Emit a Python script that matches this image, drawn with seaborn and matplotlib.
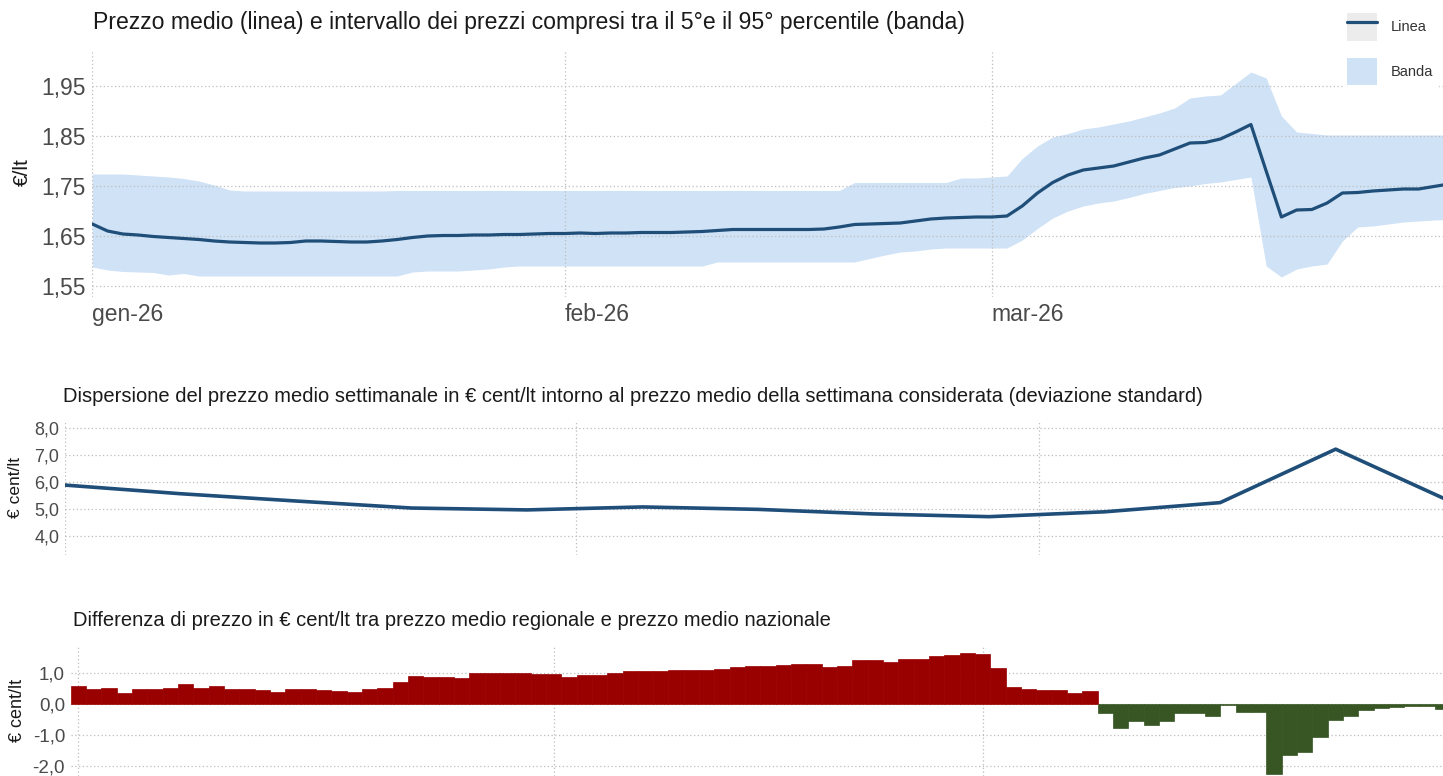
import numpy as np
import pandas as pd
import matplotlib
matplotlib.use("Agg")
import matplotlib.pyplot as plt
import matplotlib.dates as mdates
from matplotlib.lines import Line2D
from matplotlib.patches import Patch
from matplotlib.legend_handler import HandlerTuple
import seaborn as sns

sns.set_theme(style="white")
plt.rcParams['font.family'] = ['Liberation Sans', 'DejaVu Sans']

# ---- data ----
start_date = "2026-01-01"
month_starts = ["2026-01-01", "2026-02-01", "2026-03-01"]
month_labels = ["gen-26", "feb-26", "mar-26"]

# daily average price (EUR/lt)
price_mean = [1.674, 1.660, 1.654, 1.652, 1.649, 1.647, 1.645, 1.643, 1.640, 1.638,
              1.637, 1.636, 1.636, 1.637, 1.640, 1.640, 1.639, 1.638, 1.638, 1.640,
              1.643, 1.647, 1.650, 1.651, 1.651, 1.652, 1.652, 1.653, 1.653, 1.654,
              1.655, 1.655, 1.656, 1.655, 1.656, 1.656, 1.657, 1.657, 1.657, 1.658,
              1.659, 1.661, 1.663, 1.663, 1.663, 1.663, 1.663, 1.663, 1.664, 1.668,
              1.673, 1.674, 1.675, 1.676, 1.680, 1.684, 1.686, 1.687, 1.688, 1.688,
              1.690, 1.710, 1.736, 1.757, 1.772, 1.782, 1.786, 1.790, 1.798, 1.806,
              1.812, 1.824, 1.836, 1.837, 1.844, 1.858, 1.873, 1.780, 1.688, 1.702,
              1.703, 1.716, 1.736, 1.737, 1.740, 1.742, 1.744, 1.744, 1.749, 1.754]

# 95th percentile
price_p95 = [1.774, 1.774, 1.774, 1.772, 1.770, 1.768, 1.765, 1.760, 1.752, 1.742,
             1.740, 1.740, 1.740, 1.740, 1.740, 1.740, 1.740, 1.740, 1.740, 1.740,
             1.741, 1.741, 1.741, 1.741, 1.741, 1.741, 1.741, 1.741, 1.741, 1.741,
             1.741, 1.741, 1.741, 1.741, 1.741, 1.741, 1.741, 1.741, 1.741, 1.741,
             1.741, 1.741, 1.741, 1.741, 1.741, 1.741, 1.741, 1.741, 1.741, 1.741,
             1.757, 1.757, 1.757, 1.757, 1.757, 1.757, 1.757, 1.766, 1.766, 1.768,
             1.770, 1.805, 1.830, 1.848, 1.855, 1.864, 1.868, 1.874, 1.880, 1.888,
             1.896, 1.906, 1.926, 1.930, 1.932, 1.955, 1.978, 1.966, 1.890, 1.858,
             1.855, 1.852, 1.852, 1.852, 1.852, 1.852, 1.852, 1.852, 1.852, 1.852]

# 5th percentile
price_p05 = [1.588, 1.582, 1.579, 1.578, 1.577, 1.572, 1.575, 1.570, 1.570, 1.570,
             1.570, 1.570, 1.570, 1.570, 1.570, 1.570, 1.570, 1.570, 1.570, 1.570,
             1.570, 1.578, 1.580, 1.580, 1.580, 1.582, 1.584, 1.588, 1.590, 1.590,
             1.590, 1.590, 1.590, 1.590, 1.590, 1.590, 1.590, 1.590, 1.590, 1.590,
             1.590, 1.598, 1.598, 1.598, 1.598, 1.598, 1.598, 1.598, 1.598, 1.598,
             1.598, 1.605, 1.612, 1.618, 1.620, 1.624, 1.626, 1.626, 1.626, 1.626,
             1.626, 1.642, 1.665, 1.686, 1.700, 1.710, 1.716, 1.720, 1.727, 1.735,
             1.741, 1.747, 1.750, 1.755, 1.758, 1.763, 1.768, 1.590, 1.568, 1.584,
             1.590, 1.594, 1.640, 1.668, 1.670, 1.674, 1.678, 1.680, 1.682, 1.683]

# weekly standard deviation (EUR cent/lt)
std_weekly = [5.90, 5.58, 5.31, 5.05, 4.98, 5.09, 5.00, 4.83, 4.73, 4.91, 5.25, 7.23, 5.28]

# regional minus national price (EUR cent/lt)
diff_daily = [0.60, 0.49, 0.54, 0.38, 0.49, 0.51, 0.54, 0.67, 0.54, 0.58,
              0.51, 0.51, 0.46, 0.40, 0.51, 0.49, 0.45, 0.42, 0.40, 0.49,
              0.52, 0.72, 0.92, 0.88, 0.88, 0.86, 1.02, 1.02, 1.02, 1.00,
              0.97, 0.97, 0.90, 0.95, 0.95, 1.00, 1.08, 1.09, 1.09, 1.10,
              1.11, 1.12, 1.13, 1.20, 1.25, 1.25, 1.27, 1.32, 1.29, 1.20,
              1.25, 1.42, 1.42, 1.37, 1.46, 1.48, 1.57, 1.59, 1.66, 1.64,
              1.17, 0.55, 0.51, 0.47, 0.47, 0.38, 0.43, -0.27, -0.78, -0.54,
              -0.66, -0.54, -0.27, -0.29, -0.39, -0.02, -0.25, -0.25, -2.25, -1.65,
              -1.55, -1.07, -0.51, -0.38, -0.18, -0.12, -0.10, -0.06, -0.04, -0.16]

top_yticks = [1.55, 1.65, 1.75, 1.85, 1.95]
mid_yticks = [4.0, 5.0, 6.0, 7.0, 8.0]
bot_yticks = [-2.0, -1.0, 0.0, 1.0]

title_top = "Prezzo medio (linea) e intervallo dei prezzi compresi tra il 5°e il 95° percentile (banda)"
title_mid = ("Dispersione del prezzo medio settimanale in € cent/lt intorno al prezzo medio "
             "della settimana considerata (deviazione standard)")
title_bot = "Differenza di prezzo in € cent/lt tra prezzo medio regionale e prezzo medio nazionale"

# ---- frames ----
days = pd.date_range(start_date, periods=len(price_mean), freq="D")
xd = mdates.date2num(days)
weeks = pd.date_range(start_date, periods=len(std_weekly), freq="7D")
xw = mdates.date2num(weeks)
xm = mdates.date2num(pd.to_datetime(month_starts))
df_bar = pd.DataFrame({"x": mdates.date2num(pd.date_range(start_date, periods=len(diff_daily), freq="D")),
                       "v": diff_daily})
df_bar["segno"] = np.where(df_bar["v"] >= 0, "pos", "neg")

NAVY = "#1f4e79"
BAND = "#cfe2f6"
RED = "#990000"
GREEN = "#375623"
GRID = "#bdbdbd"
TICK = "#4a4a4a"
TXT = "#1a1a1a"

W, H = 1443, 776
def rect(l, t, r, b):
    return [l / W, 1 - b / H, (r - l) / W, (b - t) / H]

fig = plt.figure(figsize=(W / 100, H / 100), dpi=100)

def style(ax, yticks, fs, dec, pad):
    ax.set_yticks(yticks)
    ax.set_yticklabels([f"{v:.{dec}f}".replace(".", ",") for v in yticks], fontsize=fs, color=TICK)
    ax.set_xticks(xm)
    ax.grid(True, color=GRID, linestyle=(0, (1, 2)), linewidth=0.9)
    ax.tick_params(length=0, pad=pad)
    for s in ax.spines.values():
        s.set_visible(False)
    ax.set_xlabel("")
    ax.set_ylabel("")

# ---- top: mean price + band ----
ax1 = fig.add_axes(rect(92.3, 50, 1443, 297))
ax1.fill_between(xd, price_p05, price_p95, color=BAND, linewidth=0, zorder=1)
sns.lineplot(x=xd, y=price_mean, ax=ax1, color=NAVY, linewidth=2.3, zorder=3)
style(ax1, top_yticks, 16.5, 2, 5)
ax1.set_axisbelow("line")
ax1.set_xticklabels(month_labels, fontsize=16.5, color=TICK)
for lbl in ax1.get_xticklabels():
    lbl.set_ha("left")
ax1.tick_params(axis="x", pad=4)
ax1.set_xlim(xd[0], xd[0] + 88.6)
ax1.set_ylim(1.528, 2.022)
fig.text(93 / W, 1 - 22 / H, title_top, fontsize=16.6, color=TXT, va="center", ha="left")
fig.text(22 / W, 1 - 172 / H, "€/lt", fontsize=15, color=TXT, rotation=90, va="center", ha="center")

handles = [(Patch(facecolor="#ececec", edgecolor="none"), Line2D([], [], color=NAVY, linewidth=2.3)),
           Patch(facecolor=BAND, edgecolor="none")]
leg = fig.legend(handles, ["Linea", "Banda"], loc="upper left",
                 bbox_to_anchor=(1343 / W, 1 - 9 / H), frameon=True, framealpha=1,
                 facecolor="white", edgecolor="white",
                 handlelength=2.0, handleheight=2.5, labelspacing=1.2, handletextpad=1.0,
                 borderpad=0.3, borderaxespad=0,
                 handler_map={tuple: HandlerTuple(ndivide=1, pad=0)},
                 prop={"size": 10.5})
for t in leg.get_texts():
    t.set_color("#333333")

# ---- middle: weekly dispersion ----
ax2 = fig.add_axes(rect(64.8, 420, 1443, 555))
sns.lineplot(x=xw, y=std_weekly, ax=ax2, color=NAVY, linewidth=2.6, zorder=3)
style(ax2, mid_yticks, 13, 1, 4)
ax2.set_xticklabels([])
ax2.set_xlim(xw[0], xw[0] + 84 - 0.5)
ax2.set_ylim(3.31, 8.31)
fig.text(63 / W, 1 - 396 / H, title_mid, fontsize=14.5, color=TXT, va="center", ha="left")
fig.text(15 / W, 1 - 487 / H, "€ cent/lt", fontsize=12.5, color=TXT, rotation=90,
         va="center", ha="center")

# ---- bottom: regional vs national ----
ax3 = fig.add_axes(rect(70.6, 645, 1443, 776))
sns.barplot(data=df_bar, x="x", y="v", hue="segno", hue_order=["pos", "neg"],
            palette={"pos": RED, "neg": GREEN}, native_scale=True, width=1.0,
            saturation=1, dodge=False, legend=False, ax=ax3, zorder=3)
for p in ax3.patches:
    p.set_edgecolor(p.get_facecolor())
    p.set_linewidth(0.5)
style(ax3, bot_yticks, 13.5, 1, 4)
ax3.set_xticklabels([])
ax3.set_xlim(df_bar["x"].iloc[0] - 0.5, df_bar["x"].iloc[0] + 89.02)
ax3.set_ylim(-2.32, 1.92)
fig.text(73 / W, 1 - 621 / H, title_bot, fontsize=14.5, color=TXT, va="center", ha="left")
fig.text(18 / W, 1 - 710 / H, "€ cent/lt", fontsize=13, color=TXT, rotation=90, va="center", ha="center")

fig.savefig("out.png", dpi=100, facecolor="white")
